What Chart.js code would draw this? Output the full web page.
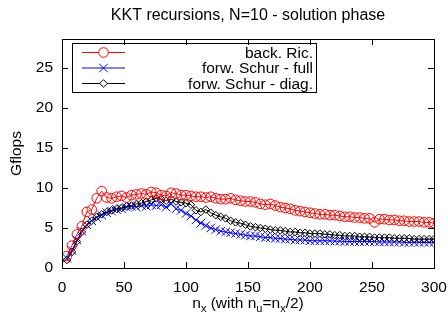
<!DOCTYPE html>
<html>
<head>
<meta charset="utf-8">
<script src="https://cdn.jsdelivr.net/npm/chart.js@4/dist/chart.umd.min.js"></script>
<style>
  html, body { margin: 0; padding: 0; background: #fff; }
  canvas { display: block; }
</style>
</head>
<body>
<canvas id="kkt" width="448" height="323"></canvas>
<script>
// n_x values
const nx = [4, 8, 12, 16, 20, 24, 28, 32, 36, 40,
    44, 48, 52, 56, 60, 64, 68, 72, 76, 80,
    84, 88, 92, 96, 100, 104, 108, 112, 116, 120,
    124, 128, 132, 136, 140, 144, 148, 152, 156, 160,
    164, 168, 172, 176, 180, 184, 188, 192, 196, 200,
    204, 208, 212, 216, 220, 224, 228, 232, 236, 240,
    244, 248, 252, 256, 260, 264, 268, 272, 276, 280,
    284, 288, 292, 296, 300];

const backRic = [1.5, 2.8, 4.2, 5.2, 7.0, 7.3, 8.7, 9.6, 8.8, 8.7,
    8.9, 9.0, 8.8, 9.1, 9.2, 9.3, 9.2, 9.5, 9.4, 9.1,
    9.0, 9.4, 9.3, 9.1, 9.1, 9.0, 8.9, 8.9, 8.8, 8.9,
    8.7, 8.6, 8.6, 8.7, 8.5, 8.4, 8.3, 8.3, 8.2, 8.0,
    7.9, 8.0, 7.8, 7.6, 7.5, 7.4, 7.2, 7.1, 7.0, 6.9,
    6.8, 6.7, 6.7, 6.6, 6.6, 6.5, 6.4, 6.4, 6.3, 6.3,
    6.2, 6.2, 5.7, 6.1, 6.1, 6.0, 6.0, 5.9, 5.9, 5.8,
    5.8, 5.8, 5.7, 5.7, 5.6];

const schurFull = [1.2, 2.2, 3.5, 4.6, 5.4, 5.9, 6.3, 6.6, 6.9, 7.1,
    7.3, 7.4, 7.6, 7.7, 7.6, 7.8, 7.7, 7.9, 7.8, 7.9,
    7.6, 8.0, 7.4, 7.2, 6.8, 6.5, 6.0, 5.6, 5.3, 5.0,
    4.8, 4.6, 4.5, 4.4, 4.3, 4.2, 4.1, 4.0, 4.0, 3.9,
    3.8, 3.8, 3.7, 3.7, 3.6, 3.6, 3.5, 3.5, 3.5, 3.4,
    3.4, 3.4, 3.4, 3.4, 3.35, 3.35, 3.3, 3.3, 3.3, 3.3,
    3.3, 3.3, 3.3, 3.25, 3.25, 3.25, 3.25, 3.25, 3.2, 3.2,
    3.2, 3.2, 3.2, 3.2, 3.2];

const schurDiag = [1.0, 2.0, 3.3, 4.5, 5.4, 5.9, 6.4, 6.7, 7.0, 7.2,
    7.4, 7.5, 7.7, 7.8, 8.0, 8.1, 8.3, 8.5, 8.7, 8.6,
    8.4, 8.6, 8.3, 8.2, 8.1, 7.9, 7.2, 7.0, 7.3, 6.9,
    6.6, 6.4, 6.2, 5.9, 5.7, 5.6, 5.4, 5.2, 5.1, 5.0,
    4.9, 4.8, 4.7, 4.7, 4.6, 4.5, 4.5, 4.4, 4.4, 4.3,
    4.3, 4.3, 4.2, 4.2, 4.1, 4.1, 4.0, 4.0, 4.0, 3.9,
    3.9, 3.9, 3.8, 3.8, 3.8, 3.8, 3.7, 3.7, 3.7, 3.7,
    3.6, 3.6, 3.6, 3.6, 3.6];

const seriesNames = ['back. Ric.', 'forw. Schur - full', 'forw. Schur - diag.'];
const xTicks = [0, 50, 100, 150, 200, 250, 300];
const yTicks = [0, 5, 10, 15, 20, 25];

const FAMILY = '"Liberation Sans", Arial, sans-serif';
const FONT = '15.5px ' + FAMILY;

function pts(ys) {
    return nx.map((x, i) => ({ x: x, y: ys[i] }));
}

// gnuplot look: box border, inward ticks on all sides, titles, boxed legend
const gnuplotFrame = {
    id: 'gnuplotFrame',
    afterDraw(chart) {
        const ctx = chart.ctx;
        const a = chart.chartArea;
        const xs = chart.scales.x, ys = chart.scales.y;
        const tl = 6;
        ctx.save();
        ctx.strokeStyle = '#000';
        ctx.lineWidth = 1;
        ctx.beginPath();
        xTicks.forEach(v => {
            const px = Math.round(xs.getPixelForValue(v)) + 0.5;
            ctx.moveTo(px, a.bottom); ctx.lineTo(px, a.bottom - tl);
            ctx.moveTo(px, a.top); ctx.lineTo(px, a.top + tl);
        });
        yTicks.forEach(v => {
            const py = Math.round(ys.getPixelForValue(v)) + 0.5;
            ctx.moveTo(a.left, py); ctx.lineTo(a.left + tl, py);
            ctx.moveTo(a.right, py); ctx.lineTo(a.right - tl, py);
        });
        ctx.stroke();
        ctx.strokeRect(Math.round(a.left) + 0.5, Math.round(a.top) + 0.5,
            Math.round(a.right - a.left), Math.round(a.bottom - a.top));

        // title
        ctx.fillStyle = '#000';
        ctx.font = '16px ' + FAMILY;
        ctx.textAlign = 'center';
        ctx.textBaseline = 'alphabetic';
        const cx = (a.left + a.right) / 2;
        ctx.fillText('KKT recursions, N=10 - solution phase', cx, 20);

        // y title
        ctx.font = FONT;
        ctx.save();
        ctx.translate(21, (a.top + a.bottom) / 2);
        ctx.rotate(-Math.PI / 2);
        ctx.fillText('Gflops', 0, 0);
        ctx.restore();

        // x title with subscripts
        const sub = '11px ' + FAMILY;
        const parts = [['n', FONT, 0], ['x', sub, 4], [' (with n', FONT, 0], ['u', sub, 4],
            ['=n', FONT, 0], ['x', sub, 4], ['/2)', FONT, 0]];
        let w = 0;
        parts.forEach(p => { ctx.font = p[1]; w += ctx.measureText(p[0]).width; });
        let x = cx - w / 2;
        ctx.textAlign = 'left';
        parts.forEach(p => {
            ctx.font = p[1];
            ctx.fillText(p[0], x, 308 + p[2]);
            x += ctx.measureText(p[0]).width;
        });

        // legend
        const lx = 72.5, ly = 43.5, lw = 244, lh = 49;
        ctx.strokeStyle = '#000';
        ctx.strokeRect(lx, ly, lw, lh);
        ctx.font = FONT;
        ctx.textAlign = 'right';
        ctx.textBaseline = 'middle';
        chart.data.datasets.forEach((ds, i) => {
            const y = 52.5 + i * 15.5;
            ctx.strokeStyle = ds.borderColor;
            ctx.lineWidth = 1;
            ctx.beginPath();
            ctx.moveTo(82, y); ctx.lineTo(125, y);
            ctx.stroke();
            ctx.fillStyle = '#ffffff';
            Chart.helpers.drawPoint(ctx, {
                pointStyle: ds.pointStyle, radius: ds.pointRadius, borderWidth: 1
            }, 103.5, y);
            ctx.fillStyle = '#000';
            ctx.fillText(seriesNames[i], 313, y + 1);
        });
        ctx.restore();
    }
};

new Chart(document.getElementById('kkt'), {
    type: 'scatter',
    data: {
        datasets: [{
            label: seriesNames[0],
            data: pts(backRic),
            showLine: true,
            borderColor: '#ff0000',
            backgroundColor: 'rgba(0,0,0,0)',
            borderWidth: 1,
            pointStyle: 'circle',
            pointRadius: 4.8,
            pointBorderWidth: 1,
            order: 0
        }, {
            label: seriesNames[1],
            data: pts(schurFull),
            showLine: true,
            borderColor: '#0000ff',
            backgroundColor: 'rgba(0,0,0,0)',
            borderWidth: 1,
            pointStyle: 'crossRot',
            pointRadius: 6,
            pointBorderWidth: 1,
            order: 2
        }, {
            label: seriesNames[2],
            data: pts(schurDiag),
            showLine: true,
            borderColor: '#000000',
            backgroundColor: 'rgba(0,0,0,0)',
            borderWidth: 1,
            pointStyle: 'rectRot',
            pointRadius: 3.8,
            pointBorderWidth: 1,
            order: 1
        }]
    },
    options: {
        responsive: false,
        animation: false,
        devicePixelRatio: 1,
        layout: { padding: { top: 39, right: 14, left: 0, bottom: 0 } },
        plugins: {
            legend: { display: false },
            tooltip: { enabled: false }
        },
        scales: {
            x: {
                type: 'linear',
                min: 0,
                max: 300,
                grid: { display: false, drawTicks: false },
                border: { display: false },
                afterFit(s) { s.height = 55; s.paddingLeft = 0; s.paddingRight = 0; },
                afterBuildTicks(s) { s.ticks = xTicks.map(v => ({ value: v })); },
                ticks: {
                    color: '#000',
                    font: { family: FAMILY, size: 15.5 },
                    padding: 10,
                    maxRotation: 0,
                    autoSkip: false
                }
            },
            y: {
                min: 0,
                max: 28.6,
                grid: { display: false, drawTicks: false },
                border: { display: false },
                afterFit(s) { s.width = 62; s.paddingTop = 0; s.paddingBottom = 0; },
                afterBuildTicks(s) { s.ticks = yTicks.map(v => ({ value: v })); },
                ticks: {
                    color: '#000',
                    font: { family: FAMILY, size: 15.5 },
                    padding: 9
                }
            }
        }
    },
    plugins: [gnuplotFrame]
});
</script>
</body>
</html>
